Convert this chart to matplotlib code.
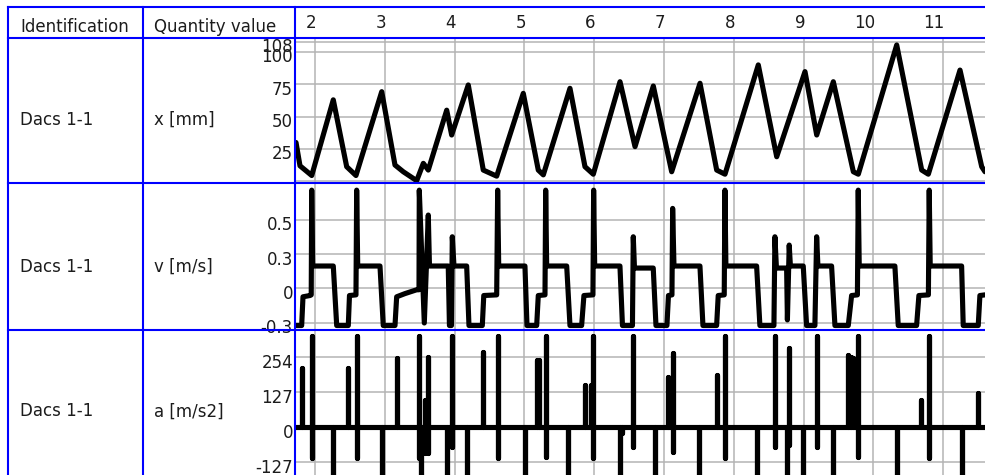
import matplotlib
matplotlib.use("Agg")
import matplotlib.pyplot as plt
from matplotlib.lines import Line2D
from matplotlib.transforms import ScaledTranslation

W, H, DPI = 985, 475, 100
FS = 12
TXT = "#1c1c1c"
BLUE = "#0000ff"
GRID = "#b4b4b4"

# ---------------- text content ----------------
HEADERS = ["Identification", "Quantity value"]
IDENT = ["Dacs 1-1", "Dacs 1-1", "Dacs 1-1"]
QUANT = ["x [mm]", "v [m/s]", "a [m/s2]"]

# ---------------- time axis ----------------
X_TICKS = [2, 3, 4, 5, 6, 7, 8, 9, 10, 11]
XLIM = (1.7135, 11.599)

# ---------------- row 1 : position x [mm] ----------------
POS_T = [1.728, 1.785, 1.953, 2.262, 2.454, 2.587, 2.956, 3.146, 3.265, 3.457,
         3.552, 3.623, 3.887, 3.958, 4.196, 4.411, 4.603, 4.984, 5.199, 5.271,
         5.653, 5.868, 5.987, 6.370, 6.585, 6.847, 7.110, 7.516, 7.755, 7.874,
         8.351, 8.615, 9.020, 9.188, 9.426, 9.713, 9.784, 10.334, 10.692, 10.787,
         11.241, 11.552, 11.599]
POS_V = [30, 12, 4.5, 63, 11.3, 4.5, 69.3, 12.6, 7.4, 0.5,
         13.9, 8.7, 55, 35.8, 74.5, 8.7, 4, 68, 8.7, 5,
         71.9, 11.3, 5.5, 77, 26.8, 73.7, 7.4, 75.8, 8.7, 5.5,
         90, 19, 84.8, 35.8, 77, 7.4, 5.5, 105.4, 8.7, 5.5,
         86, 11.3, 7.4]
POS_TICKS = [0, 25, 50, 75, 100, 108]
POS_LABELS = ["", "25", "50", "75", "100", "108"]
POS_LIM = (-1.3, 110.8)

# ---------------- row 2 : velocity v [m/s] ----------------
VEL_T = [1.714, 1.809, 1.828, 1.928, 1.946, 1.953, 1.967, 2.262, 2.311, 2.477,
         2.494, 2.587, 2.597, 2.612, 2.931, 2.978, 3.146, 3.170, 3.289, 3.457,
         3.490, 3.494, 3.566, 3.623, 3.640, 3.909, 3.926, 3.955, 3.967, 3.991,
         4.173, 4.206, 4.397, 4.418, 4.603, 4.617, 4.632, 5.008, 5.037, 5.176,
         5.199, 5.295, 5.305, 5.319, 5.606, 5.653, 5.820, 5.853, 5.982, 5.992,
         6.007, 6.369, 6.405, 6.548, 6.560, 6.577, 6.846, 6.885, 7.042, 7.064,
         7.114, 7.124, 7.143, 7.515, 7.558, 7.754, 7.777, 7.863, 7.873, 7.887,
         8.327, 8.374, 8.575, 8.589, 8.611, 8.757, 8.768, 8.794, 8.811, 8.995,
         9.043, 9.162, 9.187, 9.205, 9.401, 9.449, 9.640, 9.688, 9.771, 9.783,
         9.797, 10.308, 10.356, 10.619, 10.652, 10.788, 10.800, 10.814, 11.264, 11.287,
         11.502, 11.526, 11.598]
VEL_V = [-0.29, -0.29, -0.065, -0.055, -0.05, 0.77, 0.176, 0.176, -0.29, -0.29,
         -0.055, -0.05, 0.77, 0.176, 0.176, -0.29, -0.29, -0.065, -0.04, -0.01,
         -0.01, 0.77, -0.27, 0.575, 0.176, 0.176, -0.29, -0.29, 0.405, 0.176,
         0.176, -0.29, -0.29, -0.055, -0.05, 0.77, 0.176, 0.176, -0.29, -0.29,
         -0.055, -0.05, 0.77, 0.176, 0.176, -0.29, -0.29, -0.055, -0.05, 0.77,
         0.176, 0.176, -0.29, -0.29, 0.405, 0.16, 0.16, -0.29, -0.29, -0.055,
         -0.05, 0.627, 0.176, 0.176, -0.29, -0.29, -0.055, -0.05, 0.77, 0.176,
         0.176, -0.29, -0.29, 0.405, 0.16, 0.16, -0.246, 0.34, 0.176, 0.176,
         -0.29, -0.29, 0.405, 0.176, 0.176, -0.29, -0.29, -0.055, -0.05, 0.77,
         0.176, 0.176, -0.29, -0.29, -0.055, -0.05, 0.77, 0.176, 0.176, -0.29,
         -0.29, -0.055, -0.05]
VEL_TICKS = [-0.27, 0, 0.27, 0.54]
VEL_LABELS = ["-0.3", "0", "0.3", "0.5"]
VEL_LIM = (-0.325, 0.826)

# ---------------- row 3 : acceleration a [m/s2] (spikes) ----------------
ACC_T = [1.809, 1.953, 2.262, 2.477, 2.597, 2.956, 3.170, 3.490, 3.519, 3.576,
         3.623, 3.887, 3.967, 4.173, 4.411, 4.617, 5.008, 5.176, 5.215, 5.305,
         5.630, 5.868, 5.950, 5.990, 6.369, 6.400, 6.560, 6.870, 7.060, 7.133,
         7.501, 7.754, 7.873, 8.327, 8.589, 8.757, 8.794, 8.995, 9.187, 9.426,
         9.640, 9.675, 9.710, 9.783, 10.334, 10.681, 10.800, 11.264, 11.502]
ACC_HI = [213, 330, 0, 213, 330, 0, 249, 330, 0, 98,
          255, 0, 330, 0, 273, 330, 0, 243, 243, 330,
          0, 152, 152, 330, 0, 0, 330, 0, 183, 267,
          0, 189, 330, 0, 330, 0, 286, 0, 330, 0,
          261, 255, 250, 330, 0, 98, 330, 0, 122]
ACC_LO = [0, -113, -230, 0, -113, -230, 0, -113, -230, -95,
          -95, -230, -71, -230, 0, -113, -230, 0, 0, -107,
          -230, 0, 0, -113, -230, -22, -71, -230, 0, -90,
          -230, 0, -113, -230, -71, -230, -65, -230, -71, -230,
          0, 0, 0, -108, -230, 0, -113, -230, 0]
ACC_TICKS = [-127, 0, 127, 254]
ACC_LABELS = ["-127", "0", "127", "254"]
ACC_LIM = (-174, 352)

# ---------------- layout (pixel geometry) ----------------
def fx(px):
    return px / W

def fy(py):
    return 1 - py / H

fig = plt.figure(figsize=(W / DPI, H / DPI), dpi=DPI)
fig.patch.set_facecolor("white")

ROWS = [(38, 183), (183, 330), (330, 475)]
PLOT_LEFT = 295

acc_t, acc_v = [XLIM[0]], [0]
for t, hi, lo in zip(ACC_T, ACC_HI, ACC_LO):
    acc_t += [t, t, t, t]
    acc_v += [0, hi, lo, 0]
acc_t.append(XLIM[1])
acc_v.append(0)

series = [
    (POS_T, POS_V, POS_TICKS, POS_LABELS, POS_LIM),
    (VEL_T, VEL_V, VEL_TICKS, VEL_LABELS, VEL_LIM),
    (acc_t, acc_v, ACC_TICKS, ACC_LABELS, ACC_LIM),
]

ydown = ScaledTranslation(0, -3.5 / DPI, fig.dpi_scale_trans)
xshift = ScaledTranslation(1.5 / DPI, 0, fig.dpi_scale_trans)

for i, ((top, bot), (tt, vv, yt, yl, ylim)) in enumerate(zip(ROWS, series)):
    ax = fig.add_axes([fx(PLOT_LEFT), fy(bot), fx(W) - fx(PLOT_LEFT), (bot - top) / H])
    ax.plot(tt, vv, color="black", lw=3.7, solid_joinstyle="round",
            solid_capstyle="round", zorder=3)
    ax.set_xlim(*XLIM)
    ax.set_ylim(*ylim)
    ax.set_xticks(X_TICKS)
    ax.set_yticks(yt)
    ax.set_yticklabels(yl)
    ax.grid(True, color=GRID, lw=1.1)
    ax.set_axisbelow(True)
    for s in ax.spines.values():
        s.set_visible(False)
    ax.tick_params(axis="y", length=0, pad=1.5, labelsize=FS, labelcolor=TXT)
    for lab in ax.get_yticklabels():
        lab.set_transform(lab.get_transform() + ydown)
    if i == 0:
        ax.tick_params(axis="x", length=0, top=False, bottom=False,
                       labeltop=True, labelbottom=False, pad=4.3,
                       labelsize=FS, labelcolor=TXT)
        ax.set_xticklabels([str(v) for v in X_TICKS], ha="right")
        for tick in ax.xaxis.get_major_ticks():
            tick.label2.set_horizontalalignment("right")
            tick.label2.set_transform(tick.label2.get_transform() + xshift)
    else:
        ax.tick_params(axis="x", length=0, labelbottom=False, labeltop=False)

# ---------------- table text ----------------
fig.text(fx(20), fy(32), HEADERS[0], fontsize=FS, color=TXT, va="baseline", ha="left")
fig.text(fx(154), fy(32), HEADERS[1], fontsize=FS, color=TXT, va="baseline", ha="left")
BASES = [125, 271.5, 416.5]
for b, ident, qv in zip(BASES, IDENT, QUANT):
    fig.text(fx(19.5), fy(b), ident, fontsize=FS, color=TXT, va="baseline", ha="left")
    fig.text(fx(154), fy(b), qv, fontsize=FS, color=TXT, va="baseline", ha="left")

# ---------------- blue table lines ----------------
def hline(py, x0=8, x1=W):
    fig.add_artist(Line2D([fx(x0), fx(x1)], [fy(py), fy(py)], transform=fig.transFigure,
                          color=BLUE, lw=1.5, zorder=20))

def vline(px, y0=7, y1=H):
    fig.add_artist(Line2D([fx(px), fx(px)], [fy(y0), fy(y1)], transform=fig.transFigure,
                          color=BLUE, lw=1.5, zorder=20))

for py in [7, 38, 183, 330]:
    hline(py)
for px in [8, 143, 295]:
    vline(px)

fig.savefig("out.png", dpi=DPI, facecolor="white")
